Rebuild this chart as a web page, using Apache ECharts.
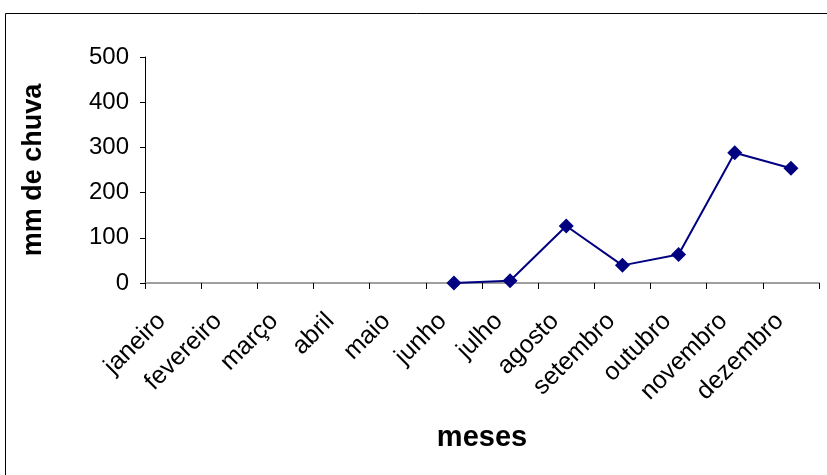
<!DOCTYPE html>
<html><head><meta charset="utf-8">
<script src="https://cdn.jsdelivr.net/npm/echarts@6/dist/echarts.min.js"></script>
<style>html,body{margin:0;padding:0;background:#fff}#c{width:827px;height:475px}</style>
</head><body><div id="c"></div>
<script>
const categories = ['janeiro','fevereiro','março','abril','maio','junho','julho','agosto','setembro','outubro','novembro','dezembro'];
const chuva = [null, null, null, null, null, 0, 5, 126, 39, 63, 288, 254];
const yMin = 0, yMax = 500, yStep = 100;
const xTitle = 'meses', yTitle = 'mm de chuva';

const chart = echarts.init(document.getElementById('c'), null, {renderer:'canvas'});
const F = 'Arial, "Liberation Sans", sans-serif';
chart.setOption({
  animation:false,
  backgroundColor:'#fff',
  graphic:[{type:'rect',shape:{x:5.5,y:13.5,width:900,height:600},style:{fill:'none',stroke:'#000',lineWidth:1},silent:true}],
  grid:{left:145,right:8,top:57,bottom:192,containLabel:false},
  xAxis:{type:'category',data:categories,boundaryGap:true,
    name:xTitle,nameLocation:'middle',nameGap:140,
    nameTextStyle:{fontFamily:F,fontWeight:'bold',fontSize:29,color:'#000'},
    axisLine:{lineStyle:{color:'#808080',width:1.5}},
    axisTick:{show:true,length:6,lineStyle:{color:'#000'}},
    axisLabel:{rotate:45,fontFamily:F,fontSize:25,color:'#000',margin:23,interval:0,padding:[0,16,0,0]},
    splitLine:{show:false}},
  yAxis:{type:'value',min:yMin,max:yMax,interval:yStep,
    name:yTitle,nameLocation:'middle',nameGap:98,
    nameTextStyle:{fontFamily:F,fontWeight:'bold',fontSize:27,color:'#000'},
    axisLine:{show:true,lineStyle:{color:'#000',width:1}},
    axisTick:{show:true,length:5,lineStyle:{color:'#000'}},
    axisLabel:{fontFamily:F,fontSize:24,color:'#000',margin:16},
    splitLine:{show:false}},
  series:[{type:'line',data:chuva,connectNulls:false,
    lineStyle:{color:'#000080',width:2},
    itemStyle:{color:'#000080'},
    symbol:'diamond',symbolSize:15,showSymbol:true}]
});
</script></body></html>
